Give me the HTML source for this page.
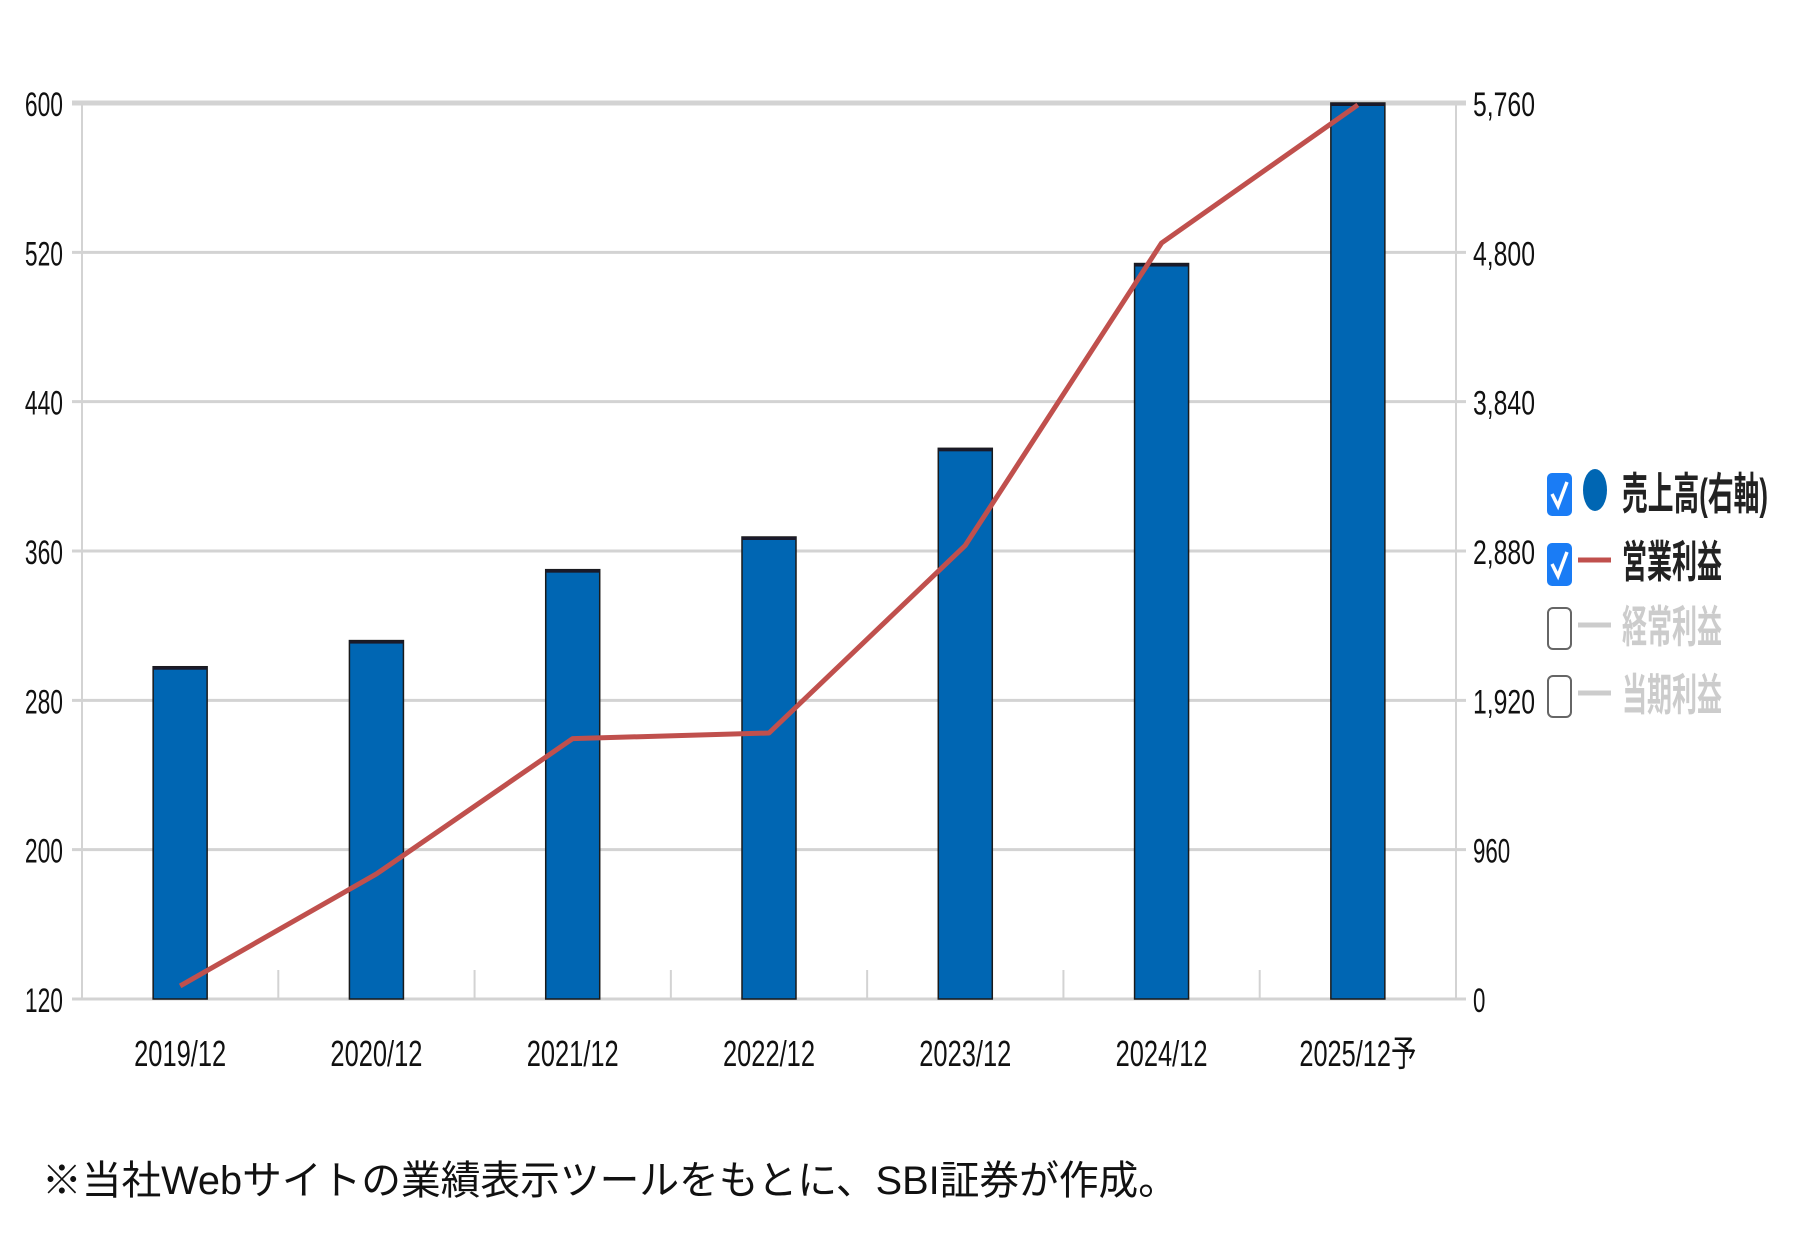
<!DOCTYPE html>
<html><head><meta charset="utf-8"><style>
html,body{margin:0;padding:0;background:#fff;}
svg{display:block;font-family:"Liberation Sans","Noto Sans CJK JP",sans-serif;}
</style></head><body>
<svg id="chart" width="1804" height="1243" viewBox="0 0 1804 1243" xmlns="http://www.w3.org/2000/svg">
<g id="grid"></g>
<g id="bars"></g>
<g id="line"></g>
<g id="axes"></g>
<g>
  <g>
    <rect x="1547" y="473" width="25" height="43" rx="5" fill="#1a7cf5"/>
    <path d="M1552 494 L1558 506 L1567 482" stroke="#fff" stroke-width="3.5" fill="none"/>
    <ellipse cx="1595" cy="490" rx="12" ry="21" fill="#0066b3"/>
    <text x="1622" y="509" font-size="44" font-weight="bold" fill="#222" textLength="146" lengthAdjust="spacingAndGlyphs">売上高(右軸)</text>
  </g>
  <g>
    <rect x="1547" y="543" width="25" height="43" rx="5" fill="#1a7cf5"/>
    <path d="M1552 564 L1558 576 L1567 552" stroke="#fff" stroke-width="3.5" fill="none"/>
    <line x1="1578" y1="560" x2="1611" y2="560" stroke="#c0504d" stroke-width="5"/>
    <text x="1622" y="577" font-size="44" font-weight="bold" fill="#222" textLength="100" lengthAdjust="spacingAndGlyphs">営業利益</text>
  </g>
  <g>
    <rect x="1548" y="608" width="23" height="41" rx="5" fill="#fff" stroke="#666" stroke-width="2"/>
    <line x1="1578" y1="625" x2="1611" y2="625" stroke="#ccc" stroke-width="5"/>
    <text x="1622" y="642" font-size="44" font-weight="bold" fill="#ccc" textLength="100" lengthAdjust="spacingAndGlyphs">経常利益</text>
  </g>
  <g>
    <rect x="1548" y="676" width="23" height="41" rx="5" fill="#fff" stroke="#666" stroke-width="2"/>
    <line x1="1578" y1="693" x2="1611" y2="693" stroke="#ccc" stroke-width="5"/>
    <text x="1622" y="710" font-size="44" font-weight="bold" fill="#ccc" textLength="100" lengthAdjust="spacingAndGlyphs">当期利益</text>
  </g>
</g>
<text x="42" y="1194" font-size="40" fill="#111" textLength="1136" lengthAdjust="spacingAndGlyphs">※当社Webサイトの業績表示ツールをもとに、SBI証券が作成。</text>
</svg>
<script>
const categories = ["2019/12","2020/12","2021/12","2022/12","2023/12","2024/12","2025/12予"];
const salesValues = [2136, 2304, 2760, 2970, 3540, 4728, 5760];
const opProfitValues = [127, 187, 259.5, 262.5, 363, 525, 599];
const leftTicks = [120, 200, 280, 360, 440, 520, 600];
const rightTicks = [0, 960, 1920, 2880, 3840, 4800, 5760];
const rightTickLabels = ["0","960","1,920","2,880","3,840","4,800","5,760"];

const NS = "http://www.w3.org/2000/svg";
const X0 = 82, X1 = 1456, Y0 = 999, Y1 = 103;
const band = (X1 - X0) / categories.length;
function xCenter(i){ return X0 + band * (i + 0.5); }
function yLeft(v){ return Y0 - (v - 120) / (600 - 120) * (Y0 - Y1); }
function yRight(v){ return Y0 - v / 5760 * (Y0 - Y1); }
function mk(tag, attrs, parent){
  const e = document.createElementNS(NS, tag);
  for (const k in attrs) e.setAttribute(k, attrs[k]);
  parent.appendChild(e); return e;
}
const grid = document.getElementById('grid');
const axes = document.getElementById('axes');
const barsG = document.getElementById('bars');
const lineG = document.getElementById('line');

leftTicks.forEach((t, i) => {
  const y = yLeft(t);
  const gl = mk('line', {x1: 72, x2: 1466, y1: y, y2: y, stroke: '#d3d3d3', 'stroke-width': (i === leftTicks.length - 1 ? 5 : 3)}, grid);
  
  
  const lt = mk('text', {x: 63, y: y + 13, 'font-size': 34, 'text-anchor': 'end', fill: '#111', textLength: String(t).length * 12.7, lengthAdjust: 'spacingAndGlyphs'}, axes);
  lt.textContent = t;
  
  
});
rightTicks.forEach((t, i) => {
  const y = yRight(t);
  const s = rightTickLabels[i];
  const rt = mk('text', {x: 1473, y: y + 13, 'font-size': 34, fill: '#111', textLength: s.length * 12.4, lengthAdjust: 'spacingAndGlyphs'}, axes);
  rt.textContent = s;
  
  
});
const la = mk('line', {x1: X0, x2: X0, y1: Y1, y2: Y0, stroke: '#d3d3d3', 'stroke-width': 2}, axes);


const ra = mk('line', {x1: X1, x2: X1, y1: Y1, y2: Y0, stroke: '#d3d3d3', 'stroke-width': 2}, axes);


for (let i = 1; i < categories.length; i++) {
  const x = X0 + band * i;
  const tk = mk('line', {x1: x, x2: x, y1: 970, y2: Y0, stroke: '#d3d3d3', 'stroke-width': 2}, axes);
  
  
}
categories.forEach((c, i) => {
  const xt = mk('text', {x: xCenter(i), y: 1066, 'font-size': 36, 'text-anchor': 'middle', fill: '#111', textLength: c.length === 7 ? 92 : 117, lengthAdjust: 'spacingAndGlyphs'}, axes);
  xt.textContent = c;
  
  
});
salesValues.forEach((v, i) => {
  const y = yRight(v), w = 54;
  const b = mk('rect', {x: xCenter(i) - w / 2, y: y, width: w, height: Y0 - y, fill: '#0066b3', stroke: '#1a1a1a', 'stroke-width': 1.5}, barsG);
  
  
  const tp = mk('rect', {x: xCenter(i) - w / 2, y: y, width: w, height: 3, fill: '#1a1a2a'}, barsG);
  
  
});
const pts = opProfitValues.map((v, i) => xCenter(i) + ',' + yLeft(v)).join(' ');
const pl = mk('polyline', {points: pts, fill: 'none', stroke: '#c0504d', 'stroke-width': 5, 'stroke-linejoin': 'round'}, lineG);


</script>
</body></html>
